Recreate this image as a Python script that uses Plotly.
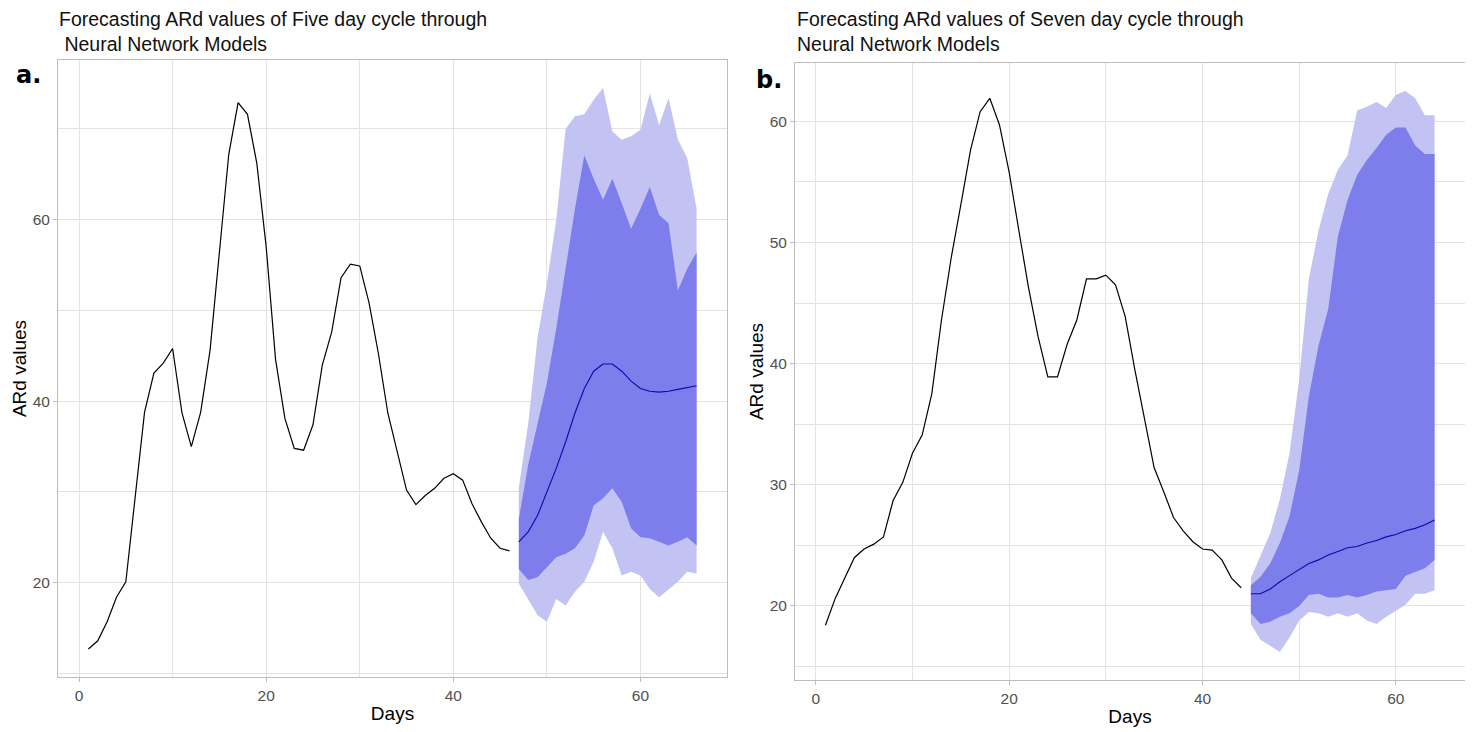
import plotly.graph_objects as go
from plotly.subplots import make_subplots

# ---------------- data ----------------
# Panel a: Five day cycle
days_hist5 = list(range(1, 47))
hist5 = [12.7, 13.6, 15.7, 18.4, 20.1, 29.6, 38.8, 43.1, 44.2, 45.8,
         38.7, 35.0, 38.8, 45.6, 56.3, 67.2, 72.9, 71.6, 66.2, 57.0,
         44.6, 38.1, 34.8, 34.6, 37.4, 44.0, 47.6, 53.6, 55.1, 54.9,
         50.8, 45.2, 38.7, 34.3, 30.2, 28.6, 29.6, 30.4, 31.5, 32.0,
         31.3, 28.7, 26.7, 24.9, 23.8, 23.5]
days_fc5 = list(range(47, 67))
mean5 = [24.5, 25.6, 27.4, 30.0, 32.6, 35.5, 38.7, 41.4, 43.3, 44.1,
         44.1, 43.3, 42.2, 41.4, 41.1, 41.0, 41.1, 41.3, 41.5, 41.7]
lo80_5 = [21.5, 20.3, 20.6, 21.7, 22.8, 23.2, 23.8, 25.2, 28.5, 29.3,
          30.4, 28.9, 26.0, 25.0, 24.9, 24.5, 24.1, 24.5, 25.0, 24.1]
hi80_5 = [27.0, 33.0, 37.5, 42.0, 48.0, 54.6, 61.2, 67.1, 64.5, 62.2,
          64.5, 61.8, 59.0, 61.2, 63.6, 60.5, 59.6, 52.2, 54.6, 56.4]
lo95_5 = [19.9, 18.2, 16.4, 15.7, 18.2, 17.5, 19.0, 20.1, 22.3, 25.6,
          23.8, 20.8, 21.2, 20.8, 19.3, 18.4, 19.3, 20.1, 21.2, 21.0]
hi95_5 = [30.5, 37.5, 47.0, 53.0, 60.0, 70.0, 71.4, 71.6, 73.2, 74.5,
          69.7, 68.8, 69.2, 69.9, 73.9, 70.4, 73.4, 68.8, 66.8, 61.2]

# Panel b: Seven day cycle
days_hist7 = list(range(1, 45))
hist7 = [18.4, 20.6, 22.3, 24.0, 24.7, 25.1, 25.7, 28.7, 30.2, 32.6,
         34.1, 37.5, 43.6, 48.7, 53.1, 57.6, 60.8, 61.9, 59.7, 55.8,
         51.0, 46.3, 42.2, 38.9, 38.9, 41.6, 43.6, 47.0, 47.0, 47.3,
         46.5, 43.9, 39.5, 35.5, 31.4, 29.4, 27.3, 26.2, 25.3, 24.7,
         24.6, 23.8, 22.3, 21.5]
days_fc7 = list(range(45, 65))
mean7 = [21.0, 21.0, 21.4, 22.0, 22.5, 23.0, 23.5, 23.8, 24.2, 24.5,
         24.8, 24.9, 25.2, 25.4, 25.7, 25.9, 26.2, 26.4, 26.7, 27.1]
lo80_7 = [19.4, 18.5, 18.7, 19.1, 19.4, 20.0, 20.9, 21.0, 20.7, 20.7,
          20.9, 20.7, 20.9, 21.2, 21.3, 21.4, 22.5, 22.8, 23.1, 23.8]
hi80_7 = [21.7, 22.4, 23.5, 25.2, 27.4, 31.2, 37.3, 41.5, 44.5, 50.5,
          53.5, 55.6, 56.8, 57.8, 58.9, 59.5, 59.5, 58.0, 57.3, 57.3]
lo95_7 = [18.5, 17.2, 16.7, 16.2, 17.4, 18.8, 19.5, 19.4, 19.1, 19.4,
          19.1, 19.4, 18.8, 18.5, 19.1, 19.6, 20.1, 21.0, 21.0, 21.3]
hi95_7 = [22.3, 24.1, 26.0, 28.8, 32.6, 38.7, 47.0, 51.0, 54.0, 56.0,
          57.2, 60.9, 61.2, 61.6, 61.1, 62.2, 62.5, 61.9, 60.5, 60.5]

titles = ["Forecasting ARd values of Five day cycle through<br>\u00a0Neural Network Models",
          "Forecasting ARd values of Seven day cycle through<br>Neural Network Models"]
panel_labels = ["a.", "b."]

# ---------------- style ----------------
FONT = "Liberation Sans, Arial, sans-serif"
C95 = "#C3C3F3"
C80 = "#7D7EEB"
CMEAN = "#0A0AA8"
GRID = "#E3E3E3"
BORDER = "#BDBDBD"
TICKC = "#505050"

# page body has an 8px default margin: size the figure to fit the window
OFF = 8
W, H = 1473 - OFF, 732 - OFF


def fx(px):
    return (px - OFF) / W


def fy(py):
    return 1 - (py - OFF) / H


fig = make_subplots(rows=1, cols=2)


def add_panel(col, dh, h, df, m, l80, h80, l95, h95):
    fig.add_trace(go.Scatter(x=df + df[::-1], y=h95 + l95[::-1], fill="toself",
                             fillcolor=C95, line=dict(width=0), mode="lines",
                             hoverinfo="skip", showlegend=False), row=1, col=col)
    fig.add_trace(go.Scatter(x=df + df[::-1], y=h80 + l80[::-1], fill="toself",
                             fillcolor=C80, line=dict(width=0), mode="lines",
                             hoverinfo="skip", showlegend=False), row=1, col=col)
    fig.add_trace(go.Scatter(x=df, y=m, mode="lines",
                             line=dict(color=CMEAN, width=1.1),
                             showlegend=False), row=1, col=col)
    fig.add_trace(go.Scatter(x=dh, y=h, mode="lines",
                             line=dict(color="black", width=1.2),
                             showlegend=False), row=1, col=col)


add_panel(1, days_hist5, hist5, days_fc5, mean5, lo80_5, hi80_5, lo95_5, hi95_5)
add_panel(2, days_hist7, hist7, days_fc7, mean7, lo80_7, hi80_7, lo95_7, hi95_7)


def expand(vals):
    lo, hi = min(vals), max(vals)
    pad = 0.05 * (hi - lo)
    return [lo - pad, hi + pad]


xr5 = expand(days_hist5 + days_fc5)
yr5 = expand(hist5 + lo95_5 + hi95_5)
xr7 = expand(days_hist7 + days_fc7)
yr7 = expand(hist7 + lo95_7 + hi95_7)

common_axis = dict(showgrid=True, gridcolor=GRID, gridwidth=1, zeroline=False,
                   showline=True, mirror=True, linecolor=BORDER, linewidth=1,
                   ticks="outside", ticklen=4, tickcolor=BORDER, automargin=False,
                   tickfont=dict(family=FONT, size=15.5, color=TICKC))

fig.update_xaxes(**common_axis, dtick=20, tick0=0,
                 minor=dict(dtick=10, tick0=0, showgrid=True, gridcolor=GRID, gridwidth=1),
                 title=dict(text="Days", font=dict(family=FONT, size=19, color="black"), standoff=4))
fig.update_yaxes(**common_axis, tick0=0,
                 title=dict(text="ARd values", font=dict(family=FONT, size=19, color="black"), standoff=1))

fig.update_layout(
    xaxis=dict(domain=[fx(58), fx(727)], range=xr5),
    xaxis2=dict(domain=[fx(795), fx(1465)], range=xr7),
    yaxis=dict(domain=[fy(677), fy(60)], range=yr5, dtick=20,
               minor=dict(dtick=10, tick0=0, showgrid=True, gridcolor=GRID, gridwidth=1)),
    yaxis2=dict(domain=[fy(680), fy(63)], range=yr7, dtick=10,
                minor=dict(dtick=5, tick0=0, showgrid=True, gridcolor=GRID, gridwidth=1)),
)

annotations = []
for tx, px in zip(titles, [57, 795]):
    annotations.append(dict(text=tx, x=fx(px), y=fy(6), xref="paper", yref="paper",
                            xanchor="left", yanchor="top", align="left", showarrow=False,
                            font=dict(family=FONT, size=19.5, color="#111111")))
for lab, px, py in zip(panel_labels, [14, 754], [75, 80]):
    annotations.append(dict(text="<b>" + lab + "</b>", x=fx(px), y=fy(py),
                            xref="paper", yref="paper", xanchor="left", yanchor="middle",
                            showarrow=False,
                            font=dict(family="DejaVu Sans, sans-serif", size=24, color="black")))

fig.update_layout(
    width=W, height=H,
    margin=dict(l=0, r=0, t=0, b=0),
    paper_bgcolor="white", plot_bgcolor="white",
    annotations=annotations,
    showlegend=False,
)

fig.write_html("out.html")
